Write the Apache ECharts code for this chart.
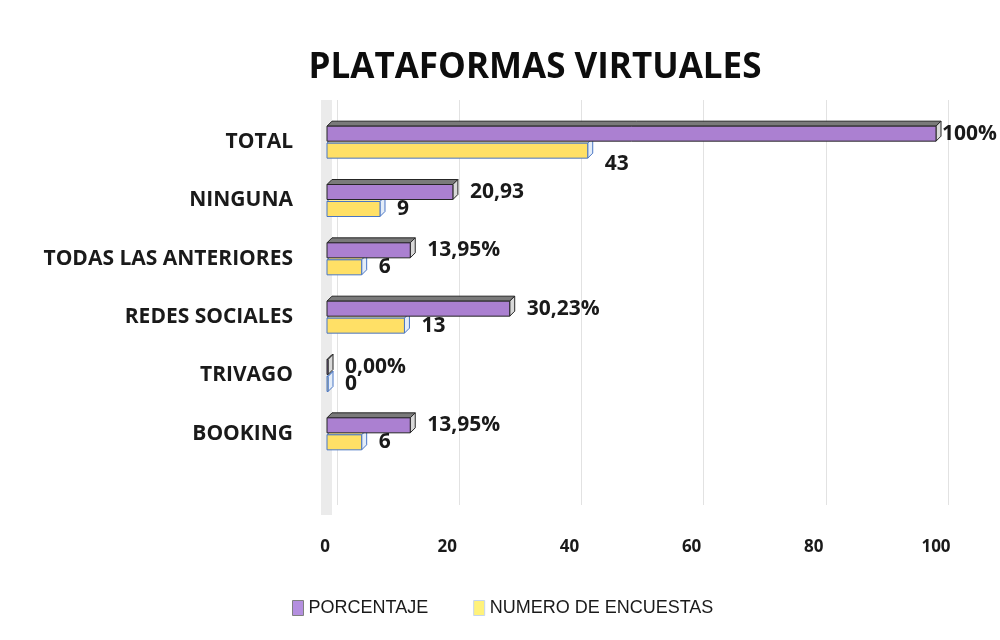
<!DOCTYPE html>
<html>
<head>
<meta charset="utf-8">
<script src="https://cdn.jsdelivr.net/npm/echarts@6/dist/echarts.min.js"></script>
<style>
  html, body { margin: 0; background: #fff; }
  #chart { width: 1000px; height: 640px; }
</style>
</head>
<body>
<div id="chart"></div>
<script>
// datos (de abajo hacia arriba, como los dibuja el eje de categorias)
const categories = ['BOOKING', 'TRIVAGO', 'REDES SOCIALES', 'TODAS LAS ANTERIORES', 'NINGUNA', 'TOTAL'];
const porcentaje = [13.95, 0, 30.23, 13.95, 20.93, 100];
const porcentajeLabels = ['13,95%', '0,00%', '30,23%', '13,95%', '20,93', '100%'];
const encuestas = [6, 0, 13, 6, 9, 43];
const encuestasLabels = ['6', '0', '13', '6', '9', '43'];
const xTicks = [0, 20, 40, 60, 80, 100];

const FONT = '"Open Sans", "Liberation Sans", sans-serif';
const NARROW = '"Liberation Sans Narrow", "Liberation Sans", sans-serif';

// barra con efecto 3d (frente + tapa + lado)
function bar3d(cfg) {
  return function (params, api) {
    const v = api.value(0), cat = api.value(1);
    const s = api.coord([0, cat]);
    const e = api.coord([v, cat]);
    const h = 15, d = 5;
    const x0 = s[0] + 2;
    const x1 = Math.max(e[0], x0 + 1);
    const y0 = cfg.upper ? s[1] - h - 1 : s[1] + 1;
    let lx = x1 + d + cfg.gap;
    if (lx > 942) lx = 942;
    let ly = y0 + h / 2 + (cfg.dy ? cfg.dy(params.dataIndex) : 0);
    return {
      type: 'group',
      children: [
        {
          type: 'polygon',
          shape: { points: [[x0, y0], [x0 + d, y0 - d], [x1 + d, y0 - d], [x1, y0]] },
          style: { fill: cfg.top, stroke: cfg.stroke, lineWidth: 1 }
        },
        {
          type: 'polygon',
          shape: { points: [[x1, y0], [x1 + d, y0 - d], [x1 + d, y0 + h - d], [x1, y0 + h]] },
          style: { fill: cfg.side, stroke: cfg.stroke, lineWidth: 1 }
        },
        {
          type: 'rect',
          shape: { x: x0, y: y0, width: x1 - x0, height: h },
          style: { fill: cfg.front, stroke: cfg.stroke, lineWidth: 1 }
        },
        {
          type: 'text',
          x: lx, y: ly,
          style: {
            text: cfg.labels[params.dataIndex],
            fill: '#1a1a1a',
            font: 'bold 21px ' + FONT,
            align: 'left',
            verticalAlign: 'middle'
          }
        }
      ]
    };
  };
}

const myChart = echarts.init(document.getElementById('chart'));

myChart.setOption({
  animation: false,
  backgroundColor: '#ffffff',
  title: {
    text: 'PLATAFORMAS VIRTUALES',
    left: 530, top: 46,
    textAlign: 'center',
    textStyle: { fontFamily: FONT, fontWeight: 'bold', fontSize: 35, color: '#0d0d0d' }
  },
  legend: {
    left: 287, top: 594,
    itemWidth: 11, itemHeight: 15, itemGap: 45,
    icon: 'rect',
    textStyle: { fontFamily: NARROW, fontSize: 18, color: '#1a1a1a' },
    data: [
      { name: 'PORCENTAJE', itemStyle: { color: '#b48fdf', borderColor: '#808080', borderWidth: 1 } },
      { name: 'NUMERO DE ENCUESTAS', itemStyle: { color: '#fff27a', borderColor: '#c5d5ee', borderWidth: 1 } }
    ]
  },
  graphic: [
    { type: 'rect', z: 0, shape: { x: 321, y: 100, width: 11, height: 415 }, style: { fill: '#ebebeb' } }
  ],
  grid: [
    { left: 337, right: 52, top: 100, bottom: 135 },
    { left: 325, right: 64, top: 113, bottom: 177 }
  ],
  xAxis: [
    {
      gridIndex: 0, type: 'value', min: 0, max: 100, interval: 20,
      axisLine: { show: false }, axisTick: { show: false }, axisLabel: { show: false },
      splitLine: { lineStyle: { color: '#e2e2e2', width: 1 } }
    },
    {
      gridIndex: 1, type: 'value', min: 0, max: 100, interval: 20,
      axisLine: { show: false }, axisTick: { show: false }, splitLine: { show: false },
      axisLabel: {
        margin: 76,
        fontFamily: FONT, fontWeight: 'bold', fontSize: 17, color: '#1a1a1a',
        formatter: v => xTicks.indexOf(v) >= 0 ? String(v) : ''
      }
    }
  ],
  yAxis: [
    { gridIndex: 0, type: 'value', show: false },
    {
      gridIndex: 1, type: 'category', data: categories,
      axisLine: { show: false }, axisTick: { show: false },
      axisLabel: { margin: 32, fontFamily: FONT, fontWeight: 'bold', fontSize: 21, color: '#1a1a1a' }
    }
  ],
  series: [
    {
      name: 'NUMERO DE ENCUESTAS',
      type: 'custom',
      xAxisIndex: 1, yAxisIndex: 1,
      z: 2,
      itemStyle: { color: '#fff27a' },
      encode: { x: 0, y: 1 },
      data: encuestas.map((v, i) => [v, i]),
      renderItem: bar3d({
        upper: false, gap: 12,
        front: '#ffe066', top: '#ffec99', side: '#e4edf8', stroke: '#4a76c4',
        labels: encuestasLabels,
        dy: i => (i === 5 ? 13 : 0)
      })
    },
    {
      name: 'PORCENTAJE',
      type: 'custom',
      xAxisIndex: 1, yAxisIndex: 1,
      z: 3,
      itemStyle: { color: '#b48fdf' },
      encode: { x: 0, y: 1 },
      data: porcentaje.map((v, i) => [v, i]),
      renderItem: bar3d({
        upper: true, gap: 12,
        front: '#ab80d1', top: '#7a7a7a', side: '#d9d9d9', stroke: '#262626',
        labels: porcentajeLabels
      })
    }
  ]
});
</script>
</body>
</html>
